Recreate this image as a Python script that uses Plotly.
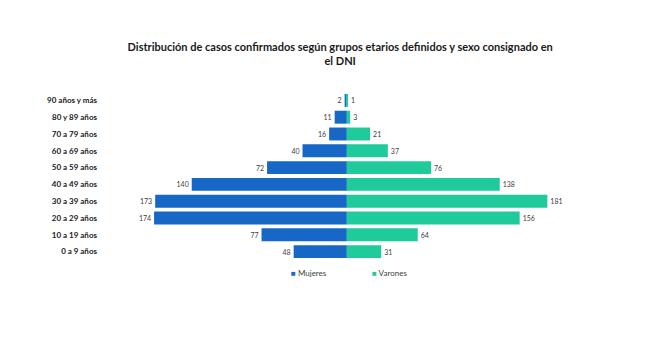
import plotly.graph_objects as go

categories = ["0 a 9 años", "10 a 19 años", "20 a 29 años", "30 a 39 años", "40 a 49 años",
              "50 a 59 años", "60 a 69 años", "70 a 79 años", "80 y 89 años", "90 años y más"]
mujeres = [48, 77, 174, 173, 140, 72, 40, 16, 11, 2]
varones = [31, 64, 156, 181, 138, 76, 37, 21, 3, 1]
series_names = ["Mujeres", "Varones"]

BLUE = "#1767C7"
GREEN = "#1FCB9B"
FONT = "Lato"

fig = go.Figure()
fig.add_trace(go.Bar(
    y=categories, x=[-v for v in mujeres], orientation="h", name=series_names[0],
    marker=dict(color=BLUE, line=dict(width=0)),
    text=[str(v) for v in mujeres], textposition="outside", cliponaxis=False,
    textfont=dict(size=7, color="#404040", family=FONT), showlegend=False,
))
fig.add_trace(go.Bar(
    y=categories, x=varones, orientation="h", name=series_names[1],
    marker=dict(color=GREEN, line=dict(width=0)),
    text=[str(v) for v in varones], textposition="outside", cliponaxis=False,
    textfont=dict(size=7, color="#404040", family=FONT), showlegend=False,
))

# legend drawn as annotations (small square + label)
for name, col, xp in ((series_names[0], BLUE, 0.376), (series_names[1], GREEN, 0.538)):
    fig.add_annotation(
        text=f"<span style='color:{col}'>■</span> {name}",
        xref="paper", yref="paper", x=xp, y=-0.075, xanchor="left", yanchor="middle",
        showarrow=False, font=dict(size=8, family=FONT, color="#404040"),
    )

fig.update_layout(
    width=648, height=358,
    margin=dict(l=102, r=48, t=92, b=98),
    paper_bgcolor="white", plot_bgcolor="white",
    barmode="overlay", bargap=0.23,
    font=dict(family=FONT, color="#262626"),
    title=dict(
        text="<b>Distribución de casos confirmados según grupos etarios definidos y sexo consignado en<br>el DNI</b>",
        x=0.525, xanchor="center", y=0.858, yanchor="middle",
        font=dict(size=11, family=FONT, color="#1a1a1a"),
    ),
    xaxis=dict(range=[-221, 228.5], visible=False, showgrid=False, zeroline=False),
    yaxis=dict(categoryorder="array", categoryarray=categories, showgrid=False,
               ticks="", ticklabelstandoff=4,
               tickfont=dict(size=8, family=FONT, color="#1a1a1a", weight="bold")),
    showlegend=False,
)

fig.write_html("out.html", config={"displayModeBar": False},
               post_script="document.body.style.margin='0px';")
